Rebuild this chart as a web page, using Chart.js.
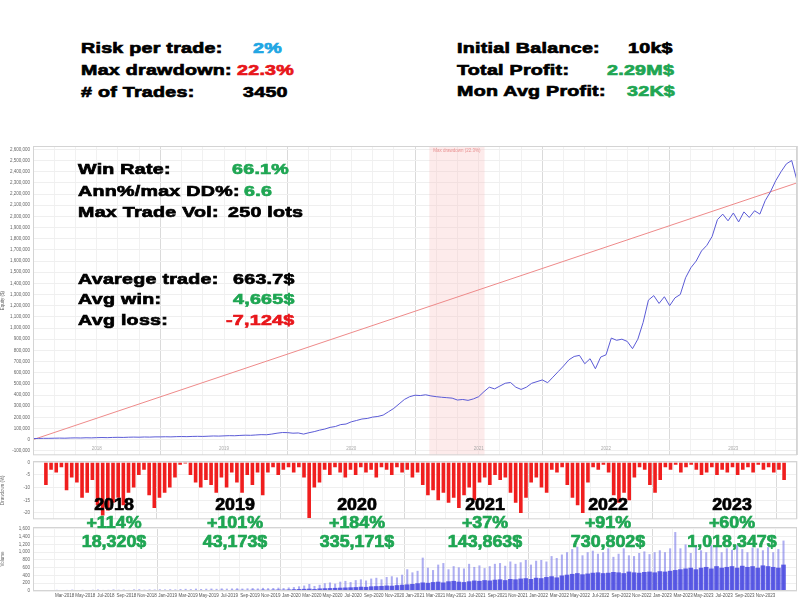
<!DOCTYPE html>
<html>
<head>
<meta charset="utf-8">
<script src="https://cdn.jsdelivr.net/npm/chart.js@4.4.1/dist/chart.umd.min.js"></script>
<style>
body { margin:0; width:800px; height:600px; background:#fff; overflow:hidden; position:relative; font-family:"Liberation Sans", Arial, sans-serif; }
canvas { position:absolute; left:0; }
.t { position:absolute; white-space:nowrap; font-weight:bold; font-size:15px; line-height:1; transform:translateY(-50%) scaleX(1.31); transform-origin:0 50%; color:#000; z-index:5; -webkit-text-stroke:0.7px currentColor; letter-spacing:0.2px; }
.yr { position:absolute; white-space:nowrap; font-weight:bold; font-size:17px; line-height:1; transform:translate(-50%,-50%) scaleX(1.05); z-index:5; -webkit-text-stroke:0.7px currentColor; }
.g { color:#1fa653; } .r { color:#e8161b; } .b { color:#21a6e3; } .k { color:#000; }
</style>
</head>
<body>
<canvas id="eqChart" width="800" height="327" style="top:134px"></canvas>
<canvas id="ddChart" width="800" height="70" style="top:455px"></canvas>
<canvas id="volChart" width="800" height="79" style="top:521px"></canvas>

<!-- stats text -->
<div class="t" style="left:81px;top:47px">Risk per trade:</div>
<div class="t b" style="left:253px;top:47px">2%</div>
<div class="t" style="left:81px;top:69px">Max drawdown:</div>
<div class="t r" style="left:237px;top:69px">22.3%</div>
<div class="t" style="left:81px;top:91px"># of Trades:</div>
<div class="t" style="left:243px;top:91px">3450</div>

<div class="t" style="left:457px;top:47px">Initial Balance:</div>
<div class="t" style="left:628px;top:47px">10k$</div>
<div class="t" style="left:457px;top:69px">Total Profit:</div>
<div class="t g" style="left:607px;top:69px">2.29M$</div>
<div class="t" style="left:457px;top:90px">Mon Avg Profit:</div>
<div class="t g" style="left:627px;top:90px">32K$</div>

<div class="t" style="left:78px;top:168px">Win Rate:</div>
<div class="t g" style="left:232px;top:168px">66.1%</div>
<div class="t" style="left:78px;top:190px">Ann%/max DD%:</div>
<div class="t g" style="left:244px;top:190px">6.6</div>
<div class="t" style="left:78px;top:211px">Max Trade Vol:</div>
<div class="t" style="left:228px;top:211px">250 lots</div>

<div class="t" style="left:78px;top:278px">Avarege trade:</div>
<div class="t" style="left:233px;top:278px">663.7$</div>
<div class="t" style="left:78px;top:298px">Avg win:</div>
<div class="t g" style="left:233px;top:298px">4,665$</div>
<div class="t" style="left:78px;top:319px">Avg loss:</div>
<div class="t r" style="left:226px;top:319px">-7,124$</div>

<div id="yearBox"></div>

<script>
// ----- DATA -----
// x axis: half-month steps from Jan 2018 (0) to end of Dec 2023 (144)
const yearNames = ['2018', '2019', '2020', '2021', '2022', '2023'];
const yearPct = ['+114%', '+101%', '+184%', '+37%', '+91%', '+60%'];
const yearProfit = ['18,320$', '43,173$', '335,171$', '143,863$', '730,802$', '1,018,347$'];
const yearTextX = [114, 235, 357, 485, 608, 732];

// equity, thousands of $, one point per half month
const equityK = [
    10, 11, 12, 12, 13, 14, 13, 15, 16, 15, 17, 16, 18, 19, 18, 20, 21, 20, 22, 23, 22, 24, 23, 25,
    25, 26, 25, 27, 28, 27, 29, 30, 29, 31, 33, 32, 34, 36, 35, 38, 40, 39, 42, 45, 44, 50, 58, 64,
    63, 58, 60, 50, 62, 72, 85, 95, 110, 118, 135, 140, 160, 172, 185, 190, 202, 208, 220, 250, 280, 320, 360, 385,
    398, 395, 402, 392, 385, 380, 376, 372, 355, 360, 352, 365, 385, 430, 470, 455, 480, 505, 512, 470, 450, 470, 505, 520,
    535, 510, 560, 610, 660, 715, 745, 755, 680, 725, 635, 740, 760, 910, 890, 900, 880, 815, 900, 1050, 1250, 1290, 1220, 1280,
    1200, 1270, 1300, 1450, 1540, 1600, 1690, 1740, 1820, 1970, 2020, 1960, 2030, 1950, 2040, 1990, 2050, 2020, 2140, 2220, 2320, 2400, 2470, 2500, 2320
];
const trendLine = [0, 2300000];
const maxDDPeriod = [74.7, 85.1];

// drawdown %, per half month
const drawdown = [
    -9, -3, -4, -2, -11, -6, -8, -14, -12, -7, -17, -21, -19, -16, -14, -17, -12, -10, -5, -3, -13, -18, -14, -12,
    -10, -6, -1, -0.5, -5, -8, -10, -7, -9, -12, -6, -10, -4, -8, -12, -5, -9, -4, -13, -4, -2, -5, -3, -2,
    -4, -2, -6, -22, -10, -8, -3, -5, -2, -4, -6, -3, -5, -2, -4, -3, -6, -2, -3, -5, -2, -4, -3, -6,
    -4, -9, -13, -11, -15, -12, -16, -14, -18, -13, -10, -15, -8, -6, -9, -5, -7, -6, -12, -16, -20, -14, -8, -6,
    -10, -12, -3, -4, -2, -9, -14, -17, -20, -8, -2, -3, -1, -4, -13, -16, -12, -15, -6, -2, -3, -9, -12, -7,
    -2, -3, -1, -4, -2, -1, -3, -5, -4, -2, -5, -3, -4, -2, -5, -3, -2, -4, -1, -3, -2, -4, -3, -7
];

// volume, per half month: typical and peak
const volBase = [
    8, 10, 12, 10, 14, 12, 10, 15, 12, 14, 16, 12, 15, 18, 14, 16, 12, 18, 20, 15, 18, 16, 20, 18,
    20, 18, 22, 25, 20, 24, 26, 22, 28, 25, 30, 26, 28, 32, 30, 28, 34, 30, 36, 32, 35, 38, 34, 40,
    45, 50, 55, 60, 50, 65, 70, 75, 80, 85, 90, 95, 100, 110, 105, 120, 125, 130, 140, 135, 150, 160, 170, 180,
    200, 220, 210, 230, 240, 220, 250, 260, 240, 230, 250, 270, 260, 280, 270, 290, 300, 280, 310, 300, 320, 330, 310, 340,
    330, 360, 380, 350, 400, 420, 440, 460, 430, 450, 470, 480, 460, 470, 490, 480, 460, 500, 480, 470, 490, 500, 480, 510,
    500, 520, 540, 560, 580, 600, 560, 600, 620, 580, 640, 600, 620, 640, 600, 650, 620, 640, 600, 660, 640, 620, 600, 680
];
const volPeak = [
    20, 25, 30, 22, 28, 35, 24, 30, 26, 32, 38, 28, 30, 40, 32, 36, 28, 42, 45, 34, 40, 38, 44, 40,
    45, 40, 50, 55, 48, 60, 52, 58, 62, 55, 66, 60, 64, 70, 62, 68, 75, 66, 80, 72, 78, 85, 76, 90,
    100, 120, 140, 180, 130, 160, 200, 220, 190, 240, 260, 230, 280, 300, 270, 320, 340, 300, 360, 380, 350, 420, 560, 480,
    520, 860, 600, 540, 680, 720, 560, 640, 610, 580, 700, 620, 660, 590, 640, 700, 720, 650, 760, 700, 740, 800, 680, 780,
    800, 760, 900, 850, 940, 1000, 1080, 1140, 920, 1000, 1040, 960, 1000, 1100, 880, 960, 1100, 920, 900, 980, 1020, 950, 1000, 1050,
    1000, 1100, 1520, 1100, 1200, 980, 1150, 1050, 1000, 1180, 1140, 1000, 1100, 1060, 1180, 1080, 1000, 1120, 1100, 1050, 1130, 1000, 1080, 1300
];

const monthTicks = [
    'Mar-2018', 'May-2018', 'Jul-2018', 'Sep-2018', 'Nov-2018', 'Jan-2019', 'Mar-2019', 'May-2019', 'Jul-2019',
    'Sep-2019', 'Nov-2019', 'Jan-2020', 'Mar-2020', 'May-2020', 'Jul-2020', 'Sep-2020', 'Nov-2020', 'Jan-2021',
    'Mar-2021', 'May-2021', 'Jul-2021', 'Sep-2021', 'Nov-2021', 'Jan-2022', 'Mar-2022', 'May-2022', 'Jul-2022',
    'Sep-2022', 'Nov-2022', 'Jan-2023', 'Mar-2023', 'May-2023', 'Jul-2023', 'Sep-2023', 'Nov-2023'
];

// ----- HELPERS -----
Chart.defaults.font.family = '"Liberation Sans", Arial, sans-serif';
Chart.defaults.color = '#666';

const tickFont = { size: 4.5 };
const fixWidth = s => { s.width = 33; };
const gridX = {
    color: c => (c.tick && c.tick.value % 24 === 0) ? '#dadada' : '#f1f1f1',
    drawTicks: false
};
const monthGridTicks = s => {
    const t = [];
    for (let v = 0; v <= 144; v += 4) t.push({ value: v });
    s.ticks = t;
};

const frame = {
    id: 'frame',
    afterDraw(chart) {
        const a = chart.chartArea, ctx = chart.ctx;
        ctx.save();
        ctx.strokeStyle = '#d4d4d4';
        ctx.lineWidth = 1;
        ctx.strokeRect(a.left + 0.5, a.top + 0.5, a.width - 1, a.height - 1);
        ctx.restore();
    }
};

const ddShade = {
    id: 'ddShade',
    beforeDatasetsDraw(chart) {
        const x = chart.scales.x, a = chart.chartArea, ctx = chart.ctx;
        const x0 = x.getPixelForValue(maxDDPeriod[0]), x1 = x.getPixelForValue(maxDDPeriod[1]);
        ctx.save();
        ctx.fillStyle = 'rgba(250,190,190,0.3)';
        ctx.fillRect(x0, a.top, x1 - x0, a.height);
        ctx.fillStyle = 'rgba(225,110,110,0.7)';
        ctx.font = '4.5px "Liberation Sans", Arial';
        ctx.textAlign = 'center';
        ctx.fillText('Max drawdown (22.3%)', (x0 + x1) / 2, a.top + 6);
        // year names along the bottom
        ctx.fillStyle = '#aaa';
        yearNames.forEach((y, k) => ctx.fillText(y, x.getPixelForValue(12 + 24 * k), a.bottom - 5));
        ctx.restore();
    }
};

function initEquity() {
    new Chart(document.getElementById('eqChart'), {
        type: 'line',
        data: {
            datasets: [
                { data: equityK.map((v, i) => ({ x: i, y: v * 1000 })), borderColor: '#5b5bd6', borderWidth: 1, pointRadius: 0, tension: 0 },
                { data: trendLine.map((v, i) => ({ x: i * 144, y: v })), borderColor: '#ee8a8a', borderWidth: 1, pointRadius: 0 }
            ]
        },
        options: {
            responsive: false, animation: false, events: [],
            layout: { padding: { top: 12, right: 3, bottom: 0, left: 0 } },
            plugins: { legend: { display: false }, tooltip: { enabled: false } },
            scales: {
                x: { type: 'linear', min: 0, max: 144, grid: gridX, border: { display: false },
                     ticks: { display: false }, afterBuildTicks: monthGridTicks, afterFit: s => { s.height = 0; } },
                y: { min: -140000, max: 2630000, grid: { color: '#efefef', drawTicks: false }, border: { display: false },
                     afterBuildTicks: s => { const t = []; for (let v = -100000; v <= 2600000; v += 100000) t.push({ value: v }); s.ticks = t; },
                     ticks: { font: tickFont, padding: 3, autoSkip: false, callback: v => v.toLocaleString('en-US') },
                     title: { display: true, text: 'Equity ($)', font: tickFont, padding: 0 },
                     afterFit: fixWidth }
            }
        },
        plugins: [ddShade, frame]
    });
}

function initDrawdown() {
    new Chart(document.getElementById('ddChart'), {
        type: 'bar',
        data: {
            datasets: [{ data: drawdown.map((v, i) => ({ x: i + 0.5, y: v })), backgroundColor: '#f01e1e',
                         categoryPercentage: 1, barPercentage: 0.7 }]
        },
        options: {
            responsive: false, animation: false, events: [],
            layout: { padding: { top: 6, right: 3, bottom: 0, left: 0 } },
            plugins: { legend: { display: false }, tooltip: { enabled: false } },
            scales: {
                x: { type: 'linear', min: 0, max: 144, grid: gridX, border: { display: false },
                     ticks: { display: false }, afterBuildTicks: monthGridTicks, afterFit: s => { s.height = 0; } },
                y: { min: -22.5, max: 0.5, grid: { color: '#efefef', drawTicks: false }, border: { display: false },
                     afterBuildTicks: s => { s.ticks = [0, -5, -10, -15, -20].map(v => ({ value: v })); },
                     ticks: { font: tickFont, padding: 3, autoSkip: false },
                     title: { display: true, text: 'Drawdown (%)', font: tickFont, padding: 0 },
                     afterFit: fixWidth }
            }
        },
        plugins: [frame]
    });
}

function initVolume() {
    new Chart(document.getElementById('volChart'), {
        type: 'bar',
        data: {
            datasets: [
                { data: volBase.map((v, i) => ({ x: i + 0.5, y: v })), backgroundColor: 'rgba(70,70,225,0.85)',
                  categoryPercentage: 1, barPercentage: 0.9, grouped: false, order: 0 },
                { data: volPeak.map((v, i) => ({ x: i + 0.5, y: v })), backgroundColor: 'rgba(120,120,232,0.6)',
                  categoryPercentage: 1, barPercentage: 0.4, grouped: false, order: 1 }
            ]
        },
        options: {
            responsive: false, animation: false, events: [],
            layout: { padding: { top: 6, right: 3, bottom: 0, left: 0 } },
            plugins: { legend: { display: false }, tooltip: { enabled: false } },
            scales: {
                x: { type: 'linear', min: 0, max: 144, grid: gridX, border: { display: false },
                     afterBuildTicks: s => { s.ticks = monthTicks.map((l, k) => ({ value: 4 + 4 * k })); },
                     ticks: { font: tickFont, color: '#555', padding: 2, maxRotation: 0, autoSkip: false,
                              callback: v => monthTicks[(v - 4) / 4] },
                     afterFit: s => { s.height = 9; } },
                y: { min: 0, max: 1650, grid: { color: '#efefef', drawTicks: false }, border: { display: false },
                     afterBuildTicks: s => { const t = []; for (let v = 0; v <= 1600; v += 200) t.push({ value: v }); s.ticks = t; },
                     ticks: { font: tickFont, padding: 3, autoSkip: false, callback: v => v.toLocaleString('en-US') },
                     title: { display: true, text: 'Volume', font: tickFont, padding: 0 },
                     afterFit: fixWidth }
            }
        },
        plugins: [frame]
    });
}

function renderYearText() {
    document.getElementById('yearBox').innerHTML = yearNames.map((y, k) => `
        <div class="yr k" style="left:${yearTextX[k]}px;top:504px">${y}</div>
        <div class="yr g" style="left:${yearTextX[k]}px;top:522px">${yearPct[k]}</div>
        <div class="yr g" style="left:${yearTextX[k]}px;top:541px">${yearProfit[k]}</div>
    `).join('');
}

initEquity();
initDrawdown();
initVolume();
renderYearText();
</script>
</body>
</html>
